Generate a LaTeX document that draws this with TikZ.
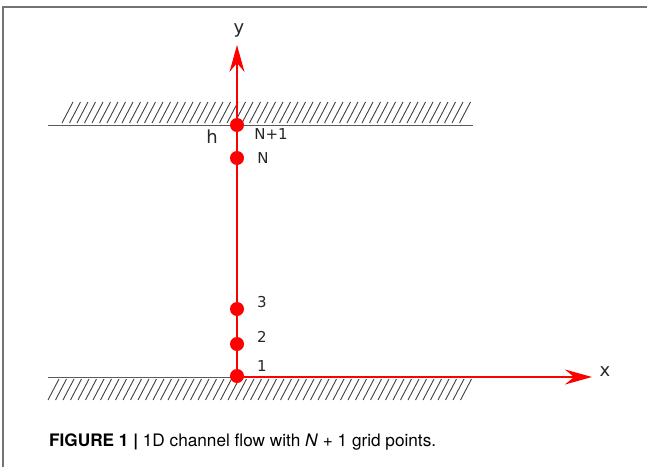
\documentclass[tikz,border=0pt]{standalone}
\usepackage{fontspec}
\setmainfont{TeX Gyre Heros}
\newfontfamily\lblfont{DejaVu Sans}
\usetikzlibrary{arrows.meta,positioning,calc}
\tikzset{
  frame/.style ={draw=black!55,line width=1.5pt},
  wall/.style  ={draw=black!65,line width=1pt},
  hatch/.style ={draw=black!75,line width=0.9pt},
  axis/.style  ={draw=red,line width=1.6pt,-{Stealth[length=27pt,width=15pt,inset=9pt]}},
  dot/.style   ={circle,fill=red,inner sep=0pt,minimum size=14pt},
  lbl/.style   ={font=\lblfont\fontsize{15}{15}\selectfont,text=black!85,inner sep=1pt},
  big/.style   ={font=\lblfont\fontsize{18}{18}\selectfont,text=black!85,inner sep=1pt},
}

\begin{document}
\begin{tikzpicture}[x=1pt,y=1pt]
  \useasboundingbox (0,0) rectangle (647,467);
  % frame
  \draw[frame] (3,0) -- (3,460) -- (647,460);

  % walls
  \coordinate (O) at (237,90);
  \coordinate (topL) at (48,342);  \coordinate (topR) at (473,342);
  \coordinate (botL) at (48,90);
  \draw[wall] (topL) -- (topR);
  \draw[wall] (botL) -- (O);
  \foreach \i in {0,...,53}
    \draw[hatch] ($(topL)+(14+\i*7.5,2)$) -- ++(11,21);
  \foreach \i in {0,...,55}
    \draw[hatch] ($(botL)+(\i*7.5,-23)$) -- ++(11,21);

  % axes
  \coordinate (ytip) at (237,422);
  \coordinate (xtip) at (592,90);
  \draw[axis] (O) -- (ytip);
  \draw[axis] (O) -- (xtip);
  \node[big] (ylab) at (239,437) {y};
  \node[big] (xlab) at (605,95) {x};

  % grid points
  \node[dot] (p1)  at (237,91) {};
  \node[dot] (p2)  at (237,123) {};
  \node[dot] (p3)  at (237,158) {};
  \node[dot] (pN)  at (237,309) {};
  \node[dot] (pN1) at (237,342) {};
  \node[lbl] at (262,101) {1};
  \node[lbl] at (262,130) {2};
  \node[lbl] at (262,165) {3};
  \node[lbl] at (263,309) {N};
  \node[lbl] at (271,333) {N+1};
  \node[big] (h) at (212,330) {h};

  % caption
  \node[anchor=west,inner sep=0pt] (cap) at (49,25)
    {\fontsize{17.2}{17.2}\selectfont\textbf{FIGURE 1 |} 1D channel flow with \textit{N} + 1 grid points.};
\end{tikzpicture}
\end{document}
